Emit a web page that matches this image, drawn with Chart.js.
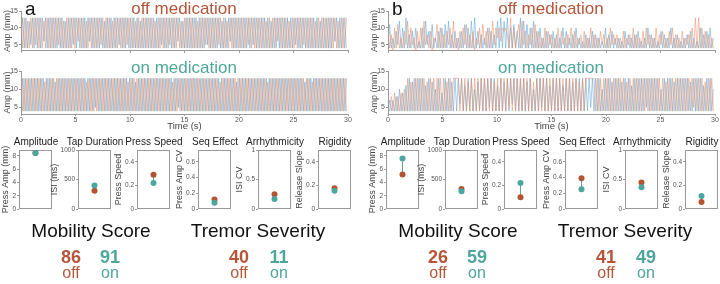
<!DOCTYPE html>
<html>
<head>
<meta charset="utf-8">
<script src="https://cdn.jsdelivr.net/npm/chart.js@4.4.1/dist/chart.umd.min.js"></script>
<style>
  body { margin: 0; width: 720px; height: 284px; position: relative; overflow: hidden; background: #fff;
         font-family: "Liberation Sans", Arial, sans-serif; }
  canvas { position: absolute; }
  .txt { position: absolute; white-space: nowrap; line-height: 1; }
  .mid { transform: translateX(-50%); }
</style>
</head>
<body>
<script>
// time traces: one hex digit per turning point, amplitude in mm, spread over 0-30 s
const aOffOrange =
  "d4d4c4d4d5d4d4c4d4d4" + "d4d5d4c4d4d4d4d6d4d4" + "c4d4d4d4d5d4d4d4c4d4" + "d4d4d5d4d4c4d4d4d4d4" +
  "d4c4d4d4d4d5d4d4d4c4" + "d4d4d4d4c4d4d5d4d4d4" + "d5d4d4c4d4d4d4d4d4d5" + "d4d4d4d4d4c4d4d4d6d4" +
  "d4d4c4d4d4d4d5d4d4d4" + "c4d4d4d4d4d4d4c4d4d4";
const aOffBlue =
  "4d4d4c5d4d4d4d6d4d4d" + "4d4d4d4c4d4d5d4d4d4d" + "4d6d4d4d4d4c4d4d4d4d" + "5d4d4d4d4d4d4c4d4d4d" +
  "4d4d4d5d4d4d4d4d6d4c" + "4d4d4d4d4d4d4d5d4d4d" + "4d4c4d4d6d4d4d4d4d4d" + "4d5d4d4d4d4d4c4d4d4d" +
  "4d4d4d4d5d4d4d4d4d4d" + "4d4c4d4d4d4d6d4d4d4d";
const aOnOrange =
  "d4d4d4d4d4d4d4d4c4d4" + "d4d4d4d4d4d4d4d4d4d4" + "d4d4c4d4d4d4d4d4d4d4" + "d4d4d4d4d4d4c4d4d4d4" +
  "d4d4d4d4d4d4d4d4d4d4" + "d4c4d4d4d4d4d4d4d4d4" + "d4d4d4d4d4d4d4c4d4d4" + "d4d4d4d4d4d4d4d4d4d4" +
  "d4d4d4c4d4d4d4d4d4d4" + "d4d4d4d4d4d4d4d4c4d4" + "d4d4d4d4d4d4d4d4d4d4";
const aOnBlue =
  "4d4d4d4d4d4d4d4d4d4d" + "4d4c4d4d4d4d4d4d4d4d" + "4d4d4d4d4d5d4d4d4d4d" + "4d4d4d4d4d4d4d4d4c4d" +
  "4d4d4d4d4d4d4d4d4d4d" + "4d4d4d5d4d4d4d4d4d4d" + "4d4d4d4d4d4d4d4d4d4d" + "4d4d4c4d4d4d4d4d4d4d" +
  "4d4d4d4d4d4d4d4d4d4d" + "4d4d4d4d4d4c4d4d4d4d" + "4d4d4d4d4d4d4d4d4d4d";
const bOffOrange =
  "9483a4b47495c4a57394" + "a4c5849376b4a48495a4" + "c47394a5b4849375a4b5" + "94a4c5a7a6a9a84d4a48" +
  "b4c59485a4b49474a495" + "8474a4957485a4947584" + "9474a48474958474a585" + "8474947584a4847494a5" +
  "8474a485947495a48474" + "947584a4d4d4a4948474";
const bOffBlue =
  "4b47495c4a4d48494a46" + "4a4c594b47494a4b4c48" + "4947494b4a4c4d494847" + "4a49484c4d4c4d4a4b49" +
  "4d4c4b4a4c494a474948" + "4948474a4947484a4746" + "4847494847464a484947" + "4746494847484946474a" +
  "4847464948474a474846" + "47484947464a48494a47";
const bOnOrange =
  "5484948494a4d4c4d4d4" + "d4d4c4d4d4d4d4d4c4d4" + "dddd4d4d4c4d4d4d4d4d" + "4d4d4c4d4d4d4d5d4d4d" +
  "4d4d4d4d4c4d4d4d4d4d" + "4d4d4d4d4d4d4d4d4c4d" + "4dddddd4d4d4d4d4d4d4" + "d4d4d4c4d4d4d4d4d4d4" +
  "d4d4d4d4d4c4d4d4d4d4" + "d4d4d4d5d4d4d4c4d4d4";
const bOnBlue =
  "4747484a494b4d4c4d4d" + "4d4b4d4c4a4d494d4d4c" + "4d4d6d4b4d4d4a4c4d4d" + "4d5d4d4b4d4c4d4d6d4d" +
  "4d4d4c4d4a4d4d5d4d4b" + "4d4d4d4b4d4d4c4d4d4d" + "4d4d5d4d4d4a4d4d4c4d" + "4d4c4d4d4b4d4d4d4d5d" +
  "4d4d4d4a4d4d4d4c4d4d" + "4d4d4c4d4d4d4b4d4d4a";

const timeTicks = [0, 5, 10, 15, 20, 25, 30];
const ampTicks = [5, 10, 15];

const metrics = ["Amplitude", "Tap Duration", "Press Speed", "Seq Effect", "Arrhythmicity", "Rigidity"];
const metricAxis = ["Press Amp (mm)", "ISI (ms)", "Press Speed", "Press Amp CV", "ISI CV", "Release Slope"];
const metricMax = [8.9, 1000, 0.5, 0.75, 1, 0.5];
const metricTicks = [[0, 2, 4, 6, 8], [0, 500, 1000], [0, 0.2, 0.4], [0, 0.2, 0.4, 0.6], [0, 0.5, 1], [0, 0.2, 0.4]];
const aOff = [8.45, 310, 0.29, 0.12, 0.25, 0.175];
const aOn = [8.45, 400, 0.22, 0.08, 0.17, 0.155];
const bOff = [5.2, 340, 0.10, 0.39, 0.45, 0.06];
const bOn = [7.6, 300, 0.22, 0.25, 0.37, 0.11];

const scoreNames = ["Mobility Score", "Tremor Severity"];
const aScoreOff = [86, 40];
const aScoreOn = [91, 11];
const bScoreOff = [26, 41];
const bScoreOn = [59, 49];

const RUST = "#b4532f", TEAL = "#4ba79d";
const RUST_TXT = "#b5553a", TEAL_TXT = "#4fa69c";

Chart.defaults.font.family = '"Liberation Sans", Arial, sans-serif';
Chart.defaults.color = "#555";

function addText(str, x, baseline, size, color, bold, centered) {
  const d = document.createElement("div");
  d.className = "txt" + (centered ? " mid" : "");
  d.textContent = str;
  d.style.left = x + "px";
  d.style.top = (baseline - 0.85 * size) + "px";
  d.style.fontSize = size + "px";
  d.style.color = color;
  if (bold) d.style.fontWeight = "bold";
  document.body.appendChild(d);
}

function addCanvas(left, top, w, h) {
  const cv = document.createElement("canvas");
  cv.width = w;
  cv.height = h;
  cv.style.left = left + "px";
  cv.style.top = top + "px";
  document.body.appendChild(cv);
  return cv;
}

function toPoints(str) {
  return str.split("").map((c, i) => ({ x: i * 30 / str.length, y: parseInt(c, 16) }));
}

function seriesChart(left, top, orange, blue, withTime) {
  const h = withTime ? 76 : 56;
  new Chart(addCanvas(left, top, 352, h), {
    type: "line",
    data: {
      datasets: [
        { data: toPoints(orange), borderColor: "rgba(232,142,102,0.75)", borderWidth: 0.7, pointRadius: 0 },
        { data: toPoints(blue), borderColor: "rgba(88,162,214,0.75)", borderWidth: 0.7, pointRadius: 0 },
      ],
    },
    options: {
      animation: false,
      responsive: false,
      layout: { padding: { top: 11, right: 4, bottom: 0, left: 0 } },
      plugins: { legend: { display: false }, tooltip: { enabled: false } },
      scales: {
        x: {
          type: "linear", min: 0, max: 30,
          afterBuildTicks: (s) => { s.ticks = timeTicks.map((v) => ({ value: v })); },
          ticks: { display: withTime, font: { size: 7 }, padding: 0, maxRotation: 0, color: "#555" },
          grid: { drawOnChartArea: false, tickLength: 2, color: "#999" },
          border: { color: "#999" },
          title: { display: withTime, text: "Time (s)", font: { size: 9.5 }, color: "#444", padding: { top: 0, bottom: 4 } },
          afterFit: (s) => { s.height = withTime ? 22 : 3; },
        },
        y: {
          min: 3.2, max: 15,
          afterBuildTicks: (s) => { s.ticks = ampTicks.map((v) => ({ value: v })); },
          ticks: { font: { size: 7 }, padding: 1, color: "#555" },
          grid: { drawOnChartArea: false, tickLength: 2, color: "#999" },
          border: { color: "#999" },
          title: { display: true, text: "Amp (mm)", font: { size: 9 }, color: "#555", padding: { top: 2, bottom: 0 } },
          afterFit: (s) => { s.width = 21; },
        },
      },
    },
  });
}

// outline round each small plot
const boxPlugin = {
  id: "box",
  beforeDatasetsDraw(c) {
    const a = c.chartArea, ctx = c.ctx;
    ctx.save();
    ctx.strokeStyle = "#999";
    ctx.lineWidth = 1;
    ctx.strokeRect(Math.round(a.left) + 0.5, Math.round(a.top) + 0.5,
      Math.round(a.right - a.left) - 1, Math.round(a.bottom - a.top) - 1);
    ctx.restore();
  },
};

function metricChart(boxLeft, i, off, on) {
  const cfg = {
    type: "scatter",
    data: {
      datasets: [{
        data: [{ x: 0, y: off }, { x: 0, y: on }],
        showLine: true, borderColor: "#6a9c97", borderWidth: 1,
        pointRadius: 3, pointBorderWidth: 0, pointBackgroundColor: [RUST, TEAL],
      }],
    },
    options: {
      animation: false,
      responsive: false,
      layout: { padding: { top: 10, right: 3, bottom: 7, left: 0 } },
      plugins: { legend: { display: false }, tooltip: { enabled: false } },
      scales: {
        x: { display: false, min: -1, max: 1 },
        y: {
          min: 0, max: metricMax[i],
          afterBuildTicks: (s) => { s.ticks = metricTicks[i].map((v) => ({ value: v })); },
          ticks: { font: { size: 6.5 }, padding: 1, color: "#555", callback: (v) => String(v) },
          grid: { drawOnChartArea: false, tickLength: 2, color: "#999" },
          border: { display: false },
          title: { display: true, text: metricAxis[i], font: { size: 9 }, color: "#444", padding: { top: 0, bottom: 0 } },
        },
      },
    },
    plugins: [boxPlugin],
  };
  const chart = new Chart(addCanvas(boxLeft - 32, 140, 69, 76), cfg);
  // push the axis over so the box starts exactly at boxLeft
  cfg.options.layout.padding.left = 32 - chart.scales.y.width;
  chart.update();
}

function panel(dx, letter, offO, offB, onO, onB, offVals, onVals, scoreOff, scoreOn) {
  seriesChart(dx, 0, offO, offB, false);
  seriesChart(dx, 60, onO, onB, true);
  addText(letter, dx + 25, 15, 19, "#111", false, false);
  addText("off medication", dx + 184, 14, 17, RUST_TXT, false, true);
  addText("on medication", dx + 184, 73, 17, TEAL_TXT, false, true);

  const boxLefts = [19, 78, 137, 198, 258, 318];
  metrics.forEach((m, i) => {
    metricChart(dx + boxLefts[i], i, offVals[i], onVals[i]);
    addText(m, dx + boxLefts[i] + 17, 145, 10, "#222", false, true);
  });

  const centers = [91, 258];
  const offX = [71, 239];
  const onX = [110, 279];
  scoreNames.forEach((name, k) => {
    addText(name, dx + centers[k], 237, 19, "#111", false, true);
    addText(String(scoreOff[k]), dx + offX[k], 263, 18, RUST_TXT, true, true);
    addText(String(scoreOn[k]), dx + onX[k], 263, 18, TEAL_TXT, true, true);
    addText("off", dx + offX[k], 279, 16, RUST_TXT, false, true);
    addText("on", dx + onX[k], 279, 16, TEAL_TXT, false, true);
  });
}

panel(0, "a", aOffOrange, aOffBlue, aOnOrange, aOnBlue, aOff, aOn, aScoreOff, aScoreOn);
panel(367, "b", bOffOrange, bOffBlue, bOnOrange, bOnBlue, bOff, bOn, bScoreOff, bScoreOn);
</script>
</body>
</html>
